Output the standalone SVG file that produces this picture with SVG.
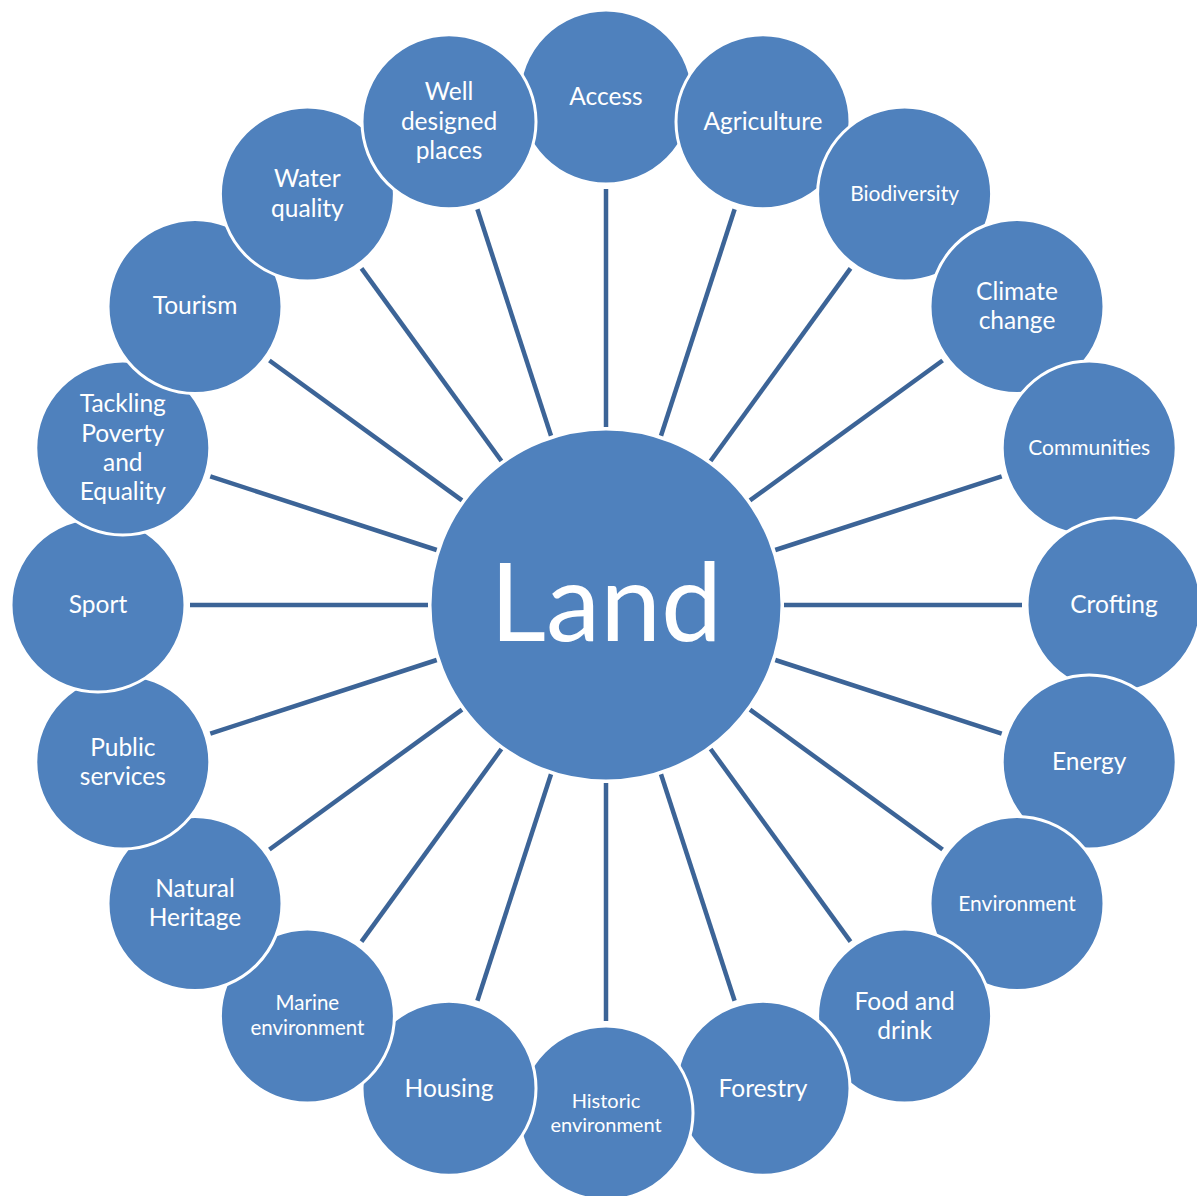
<svg xmlns="http://www.w3.org/2000/svg" width="1197" height="1196" viewBox="0 0 1197 1196">
<style>
.c{fill:#4F81BD;stroke:#FFFFFF;stroke-width:3}
.s{stroke:#3C6497;stroke-width:4.5;fill:none}
text{font-family:Lato,"Open Sans",sans-serif;fill:#FFFFFF;text-anchor:middle;font-size:24.5px}
.sm{font-size:21px}
.xs{font-size:20px}
.xm{font-size:20.5px}
.big{font-size:109px}
</style>
<rect width="1197" height="1196" fill="#FFFFFF"/>
<g id="connectors">
<line class="s" x1="606.0" y1="427.0" x2="606.0" y2="189.0"/>
<line class="s" x1="661.0" y1="435.7" x2="734.6" y2="209.3"/>
<line class="s" x1="710.6" y1="461.0" x2="850.5" y2="268.4"/>
<line class="s" x1="750.0" y1="500.4" x2="942.6" y2="360.5"/>
<line class="s" x1="775.3" y1="550.0" x2="1001.7" y2="476.4"/>
<line class="s" x1="784.0" y1="605.0" x2="1022.0" y2="605.0"/>
<line class="s" x1="775.3" y1="660.0" x2="1001.7" y2="733.6"/>
<line class="s" x1="750.0" y1="709.6" x2="942.6" y2="849.5"/>
<line class="s" x1="710.6" y1="749.0" x2="850.5" y2="941.6"/>
<line class="s" x1="661.0" y1="774.3" x2="734.6" y2="1000.7"/>
<line class="s" x1="606.0" y1="783.0" x2="606.0" y2="1021.0"/>
<line class="s" x1="551.0" y1="774.3" x2="477.4" y2="1000.7"/>
<line class="s" x1="501.4" y1="749.0" x2="361.5" y2="941.6"/>
<line class="s" x1="462.0" y1="709.6" x2="269.4" y2="849.5"/>
<line class="s" x1="436.7" y1="660.0" x2="210.3" y2="733.6"/>
<line class="s" x1="428.0" y1="605.0" x2="190.0" y2="605.0"/>
<line class="s" x1="436.7" y1="550.0" x2="210.3" y2="476.4"/>
<line class="s" x1="462.0" y1="500.4" x2="269.4" y2="360.5"/>
<line class="s" x1="501.4" y1="461.0" x2="361.5" y2="268.4"/>
<line class="s" x1="551.0" y1="435.7" x2="477.4" y2="209.3"/>
</g>
<g id="land"><circle class="c" cx="606" cy="605" r="176"/><text class="big" x="606" y="641">Land</text></g>
<g id="access"><circle class="c" cx="606" cy="97" r="87"/><text x="606" y="105">Access</text></g>
<g id="agriculture"><circle class="c" cx="763" cy="121.8" r="87"/><text x="763" y="130">Agriculture</text></g>
<g id="biodiversity"><circle class="c" cx="904.6" cy="194" r="87"/><text class="sm" x="904.6" y="201">Biodiversity</text></g>
<g id="climate-change"><circle class="c" cx="1017" cy="306.4" r="87"/><text x="1017"><tspan x="1017" y="300">Climate</tspan><tspan x="1017" y="329">change</tspan></text></g>
<g id="communities"><circle class="c" cx="1089.2" cy="448" r="87"/><text class="sm" x="1089.2" y="455">Communities</text></g>
<g id="crofting"><circle class="c" cx="1114" cy="605" r="87"/><text x="1114" y="613">Crofting</text></g>
<g id="energy"><circle class="c" cx="1089.2" cy="762" r="87"/><text x="1089.2" y="770">Energy</text></g>
<g id="environment"><circle class="c" cx="1017" cy="903.6" r="87"/><text class="sm" x="1017" y="911">Environment</text></g>
<g id="food-and-drink"><circle class="c" cx="904.6" cy="1016" r="87"/><text x="904.6"><tspan x="904.6" y="1010">Food and</tspan><tspan x="904.6" y="1039">drink</tspan></text></g>
<g id="forestry"><circle class="c" cx="763" cy="1088.2" r="87"/><text x="763" y="1097">Forestry</text></g>
<g id="historic-environment"><circle class="c" cx="606" cy="1113" r="87"/><text class="xs"><tspan x="606" y="1108">Historic</tspan><tspan x="606" y="1132">environment</tspan></text></g>
<g id="housing"><circle class="c" cx="449" cy="1088.2" r="87"/><text x="449" y="1097">Housing</text></g>
<g id="marine-environment"><circle class="c" cx="307.4" cy="1016" r="87"/><text class="xm"><tspan x="307.4" y="1010">Marine</tspan><tspan x="307.4" y="1035">environment</tspan></text></g>
<g id="natural-heritage"><circle class="c" cx="195" cy="903.6" r="87"/><text><tspan x="195" y="897">Natural</tspan><tspan x="195" y="926">Heritage</tspan></text></g>
<g id="public-services"><circle class="c" cx="122.8" cy="762" r="87"/><text><tspan x="122.8" y="756">Public</tspan><tspan x="122.8" y="785">services</tspan></text></g>
<g id="sport"><circle class="c" cx="98" cy="605" r="87"/><text x="98" y="613">Sport</text></g>
<g id="tackling-poverty"><circle class="c" cx="122.8" cy="448" r="87"/><text><tspan x="122.8" y="412">Tackling</tspan><tspan x="122.8" y="442">Poverty</tspan><tspan x="122.8" y="471">and</tspan><tspan x="122.8" y="500">Equality</tspan></text></g>
<g id="tourism"><circle class="c" cx="195" cy="306.4" r="87"/><text x="195" y="314">Tourism</text></g>
<g id="water-quality"><circle class="c" cx="307.4" cy="194" r="87"/><text><tspan x="307.4" y="187">Water</tspan><tspan x="307.4" y="217">quality</tspan></text></g>
<g id="well-designed-places"><circle class="c" cx="449" cy="121.8" r="87"/><text><tspan x="449" y="100">Well</tspan><tspan x="449" y="130">designed</tspan><tspan x="449" y="159">places</tspan></text></g>
</svg>
